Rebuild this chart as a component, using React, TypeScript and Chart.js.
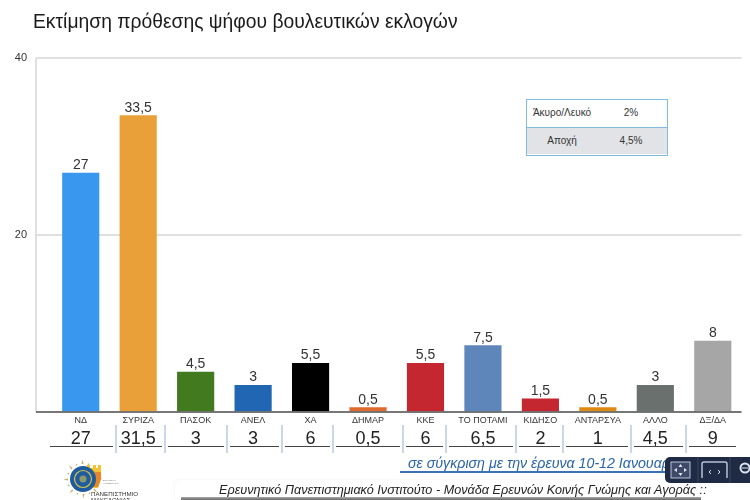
import React, { useEffect, useRef } from "react";
import { Chart, registerables } from "chart.js";

Chart.register(...registerables);

const FONT = '"Liberation Sans", Arial, sans-serif';

const parties = ["ΝΔ", "ΣΥΡΙΖΑ", "ΠΑΣΟΚ", "ΑΝΕΛ", "ΧΑ", "ΔΗΜΑΡ", "ΚΚΕ", "ΤΟ ΠΟΤΑΜΙ", "ΚΙΔΗΣΟ", "ΑΝΤΑΡΣΥΑ", "ΑΛΛΟ", "ΔΞ/ΔΑ"];
const estimate = [27, 33.5, 4.5, 3, 5.5, 0.5, 5.5, 7.5, 1.5, 0.5, 3, 8];
const previous = [27, 31.5, 3, 3, 6, 0.5, 6, 6.5, 2, 1, 4.5, 9];
const barColors = ["#3A97EF", "#E9A038", "#417A1F", "#2066B2", "#000000", "#E0692E", "#C4272F", "#5F86BA", "#C4272F", "#DD8A15", "#6A706E", "#A6A6A6"];
const yTicks = [0, 20, 40];
const sideLabels = ["Άκυρο/Λευκό", "Αποχή"];
const sideValues = ["2%", "4,5%"];

const TITLE = "Εκτίμηση πρόθεσης ψήφου βουλευτικών εκλογών";
const COMPARE = "σε σύγκριση με την έρευνα 10-12 Ιανουαρίου";
const BANNER = "Ερευνητικό Πανεπιστημιακό Ινστιτούτο - Μονάδα Ερευνών Κοινής Γνώμης και Αγοράς ::";

const fmt = (v: number) => String(v).replace(".", ",");

const decorPlugin = {
  id: "decor",
  beforeDatasetsDraw(chart: any) {
    const { ctx, chartArea: a } = chart;
    ctx.save();
    ctx.strokeStyle = "#e0e0e0";
    ctx.lineWidth = 2;
    ctx.beginPath();
    ctx.moveTo(36, a.bottom);
    ctx.lineTo(36, a.top);
    ctx.stroke();
    ctx.restore();
  },
  afterDatasetsDraw(chart: any) {
    const { ctx, chartArea: a } = chart;
    const meta = chart.getDatasetMeta(0);
    ctx.save();
    ctx.font = `14px ${FONT}`;
    ctx.fillStyle = "#333";
    ctx.textAlign = "center";
    ctx.textBaseline = "alphabetic";
    meta.data.forEach((bar: any, i: number) => ctx.fillText(fmt(estimate[i]), bar.x, bar.y - 4));
    // axis line
    ctx.strokeStyle = "#555";
    ctx.lineWidth = 1.5;
    ctx.beginPath();
    ctx.moveTo(36, a.bottom);
    ctx.lineTo(a.right, a.bottom);
    ctx.stroke();
    // comparison row rules
    const edges = [50, 116, 165, 227, 282, 333, 403, 446, 516, 563, 631, 686, 736];
    ctx.strokeStyle = "#b9cadf";
    ctx.lineWidth = 1.5;
    edges.slice(1, -1).forEach((x) => {
      ctx.beginPath();
      ctx.moveTo(x, 425);
      ctx.lineTo(x, 453);
      ctx.stroke();
    });
    ctx.strokeStyle = "#444";
    ctx.lineWidth = 1;
    edges.slice(0, -1).forEach((x, i) => {
      ctx.beginPath();
      ctx.moveTo(x + (i === 0 ? 0 : 3), 446.5);
      ctx.lineTo(edges[i + 1] - (i === 11 ? 0 : 3), 446.5);
      ctx.stroke();
    });
    ctx.restore();
  },
};

function Logo() {
  const rays = [0, 1, 2, 3, 4, 5, 6, 7, 8, 9, 10, 11, 12, 13, 14, 15];
  return (
    <svg width="110" height="50" viewBox="0 0 110 50" style={{ position: "absolute", left: 60, top: 450 }}>
      {rays.map((r) => (
        <path
          key={r}
          d={r % 2 ? "M21.5 14 L23.5 14 L22.5 12Z" : "M21.5 14 L23.5 14 L22.5 9.5Z"}
          transform={`rotate(${r * 22.5} 23 29)`}
          fill="#B59A3C"
          opacity="0.8"
        />
      ))}
      <path d="M27 15h3v3h3v-3h3v3h2v-3h3v14l-3 9h-11z" fill="#F2C230" />
      <path d="M35 22h6v7l-3 8h-5z" fill="#E8862A" />
      <circle cx="23" cy="29" r="13" fill="#1F5C9E" />
      <circle cx="23" cy="29" r="8.5" fill="none" stroke="#D8C24A" strokeWidth="1.2" />
      <circle cx="23" cy="29" r="3.5" fill="#D8C24A" opacity="0.6" />
      <text x="43" y="31" fontFamily={FONT} fontSize="2.5" fill="#666">ΕΛΛΗΝΙΚΗ</text>
      <text x="43" y="34" fontFamily={FONT} fontSize="2.5" fill="#666">ΔΗΜΟΚΡΑΤΙΑ</text>
      <text x="31" y="46" fontFamily={FONT} fontSize="6.2" fill="#333">ΠΑΝΕΠΙΣΤΗΜΙΟ</text>
      <text x="31" y="52" fontFamily={FONT} fontSize="6" fill="#333">ΜΑΚΕΔΟΝΙΑΣ</text>
    </svg>
  );
}

function Controls() {
  return (
    <svg width="85" height="26" viewBox="0 0 85 26" style={{ position: "absolute", left: 665, top: 457 }}>
      <path d="M5 0H85V26H5a5 5 0 0 1-5-5V5a5 5 0 0 1 5-5z" fill="#1F2A44" />
      <path d="M33 0v26M65 0v26" stroke="#3a4560" />
      <rect x="6" y="5" width="19" height="16" fill="#3E4A68" stroke="#B8C2D8" />
      <g fill="#DDE4F0">
        <path d="M15.5 7l2 3h-4zM15.5 19l2-3h-4zM9 13l3-2v4zM22 13l-3-2v4z" />
      </g>
      <path d="M37 21V7a2 2 0 0 1 2-2h21a2 2 0 0 1 2 2v14" fill="none" stroke="#B8C2D8" strokeWidth="1.5" />
      <path d="M46 13l-2 2 2 2M53 13l2 2-2 2" fill="none" stroke="#DDE4F0" />
      <circle cx="80" cy="11" r="4.5" fill="none" stroke="#DDE4F0" strokeWidth="2" />
      <path d="M77 11h6" stroke="#DDE4F0" />
    </svg>
  );
}

export default function App() {
  const ref = useRef<HTMLCanvasElement>(null);

  useEffect(() => {
    document.body.style.margin = "0";
    const chart = new Chart(ref.current!, {
      type: "bar",
      data: {
        labels: parties,
        datasets: [{ data: estimate, backgroundColor: barColors, barThickness: 36.5, xAxisID: "x", yAxisID: "y" }],
      },
      plugins: [decorPlugin],
      options: {
        animation: false,
        responsive: false,
        layout: { padding: { top: 58, right: 8.5, bottom: 50, left: 0 } },
        plugins: { legend: { display: false }, tooltip: { enabled: false } },
        scales: {
          x: {
            position: "bottom",
            grid: { display: false, drawTicks: false },
            border: { display: false },
            ticks: { font: { family: FONT, size: 9 }, color: "#333", padding: 3, maxRotation: 0, autoSkip: false },
            afterFit: (s: any) => { s.height = 16; },
          },
          x2: {
            type: "category",
            position: "bottom",
            labels: previous.map(fmt),
            grid: { display: false, drawTicks: false },
            border: { display: false },
            ticks: { font: { family: FONT, size: 18 }, color: "#222", padding: 0, maxRotation: 0, autoSkip: false },
            afterFit: (s: any) => { s.height = 22; },
          },
          y: {
            min: 0,
            max: 40,
            afterFit: (s: any) => { s.width = 52; },
            afterBuildTicks: (s: any) => { s.ticks = yTicks.map((value) => ({ value })); },
            grid: { color: "#e0e0e0", lineWidth: 2, tickLength: 16, drawTicks: true },
            border: { display: false },
            ticks: {
              font: { family: FONT, size: 11 },
              color: "#333",
              padding: 9,
              callback: (v: any) => (v === 0 ? "" : String(v)),
            },
          },
        },
      },
    } as any);
    return () => chart.destroy();
  }, []);

  const text: React.CSSProperties = { position: "absolute", fontFamily: FONT, whiteSpace: "nowrap" };

  return (
    <div style={{ position: "absolute", left: 0, top: 0, width: 750, height: 500, overflow: "hidden", background: "#fff" }}>
      <canvas ref={ref} width={750} height={500} style={{ position: "absolute", left: 0, top: 0 }} />
      <div style={{ ...text, left: 33, top: 11, fontSize: 19.3, lineHeight: "22px", color: "#1a1a1a" }}>{TITLE}</div>

      <div style={{ position: "absolute", left: 526, top: 99, width: 142, height: 57, boxSizing: "border-box", border: "1.5px solid #7EBDE0", fontFamily: FONT, fontSize: 10, color: "#333" }}>
        {sideLabels.map((label, i) => (
          <div key={label} style={{ position: "relative", boxSizing: "border-box", height: i ? 27.5 : 26.5, background: i ? "#E1E3E6" : "#fff", borderTop: i ? "1.5px solid #7EBDE0" : "none", lineHeight: "26px" }}>
            <span style={{ position: "absolute", left: 0, width: 70, textAlign: "center" }}>{label}</span>
            <span style={{ position: "absolute", left: 84, width: 40, textAlign: "center" }}>{sideValues[i]}</span>
          </div>
        ))}
      </div>

      <div style={{ ...text, left: 408, top: 454, fontSize: 14.2, lineHeight: "18px", fontStyle: "italic", color: "#2A64A8" }}>{COMPARE}</div>
      <div style={{ position: "absolute", left: 400, top: 471, width: 265, height: 1.5, background: "#3A72B5" }} />

      <div style={{ position: "absolute", left: 175, top: 480, width: 525, height: 18, background: "#fff", borderRadius: 4, boxShadow: "0 0 3px #eee" }} />
      <div style={{ position: "absolute", left: 181, top: 497, width: 520, height: 3, background: "linear-gradient(#aaa,#666)" }} />
      <div style={{ ...text, left: 219, top: 482, fontSize: 12.65, lineHeight: "16px", fontStyle: "italic", color: "#222" }}>{BANNER}</div>

      <Logo />
      <Controls />
    </div>
  );
}
